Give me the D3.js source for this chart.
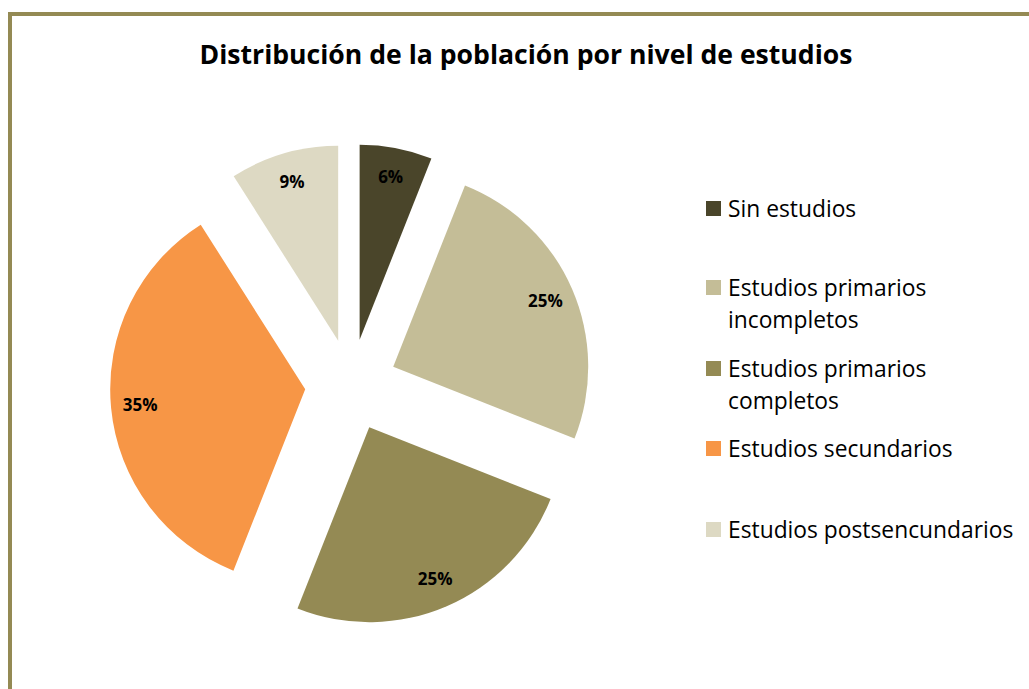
<!DOCTYPE html>
<html>
<head>
<meta charset="utf-8">
<script src="https://cdn.jsdelivr.net/npm/d3@7"></script>
<style>
  body { margin: 0; background: #fff; }
  svg text { font-family: "Open Sans", Lato, sans-serif; }
</style>
</head>
<body>
<div id="chart"></div>
<script>
var categories = ['Sin estudios', 'Estudios primarios incompletos', 'Estudios primarios completos', 'Estudios secundarios', 'Estudios postsencundarios'];
var legendLines = [['Sin estudios'], ['Estudios primarios', 'incompletos'], ['Estudios primarios', 'completos'], ['Estudios secundarios'], ['Estudios postsencundarios']];
var values = [6, 25, 25, 35, 9];
var colors = ['#4A452A', '#C4BD97', '#948A54', '#F79646', '#DDD9C3'];
var title = 'Distribución de la población por nivel de estudios';

var W = 1029, H = 689;
var svg = d3.select('#chart').append('svg').attr('width', W).attr('height', H);

// frame
svg.append('rect')
  .attr('x', 10).attr('y', 14)
  .attr('width', W + 20).attr('height', H + 20)
  .style('fill', '#fff').style('stroke', '#948A54').style('stroke-width', 4);

svg.append('text')
  .attr('x', 526).attr('y', 64)
  .style('text-anchor', 'middle')
  .style('font-weight', 'bold')
  .style('font-size', '26.6px')
  .style('fill', '#000')
  .text(title);

var cx = 351, cy = 385, r = 195, explode = 46;
var pie = d3.pie().sort(null).value(function (d) { return d; });
var arcs = pie(values);
var arc = d3.arc().innerRadius(0).outerRadius(r);
var total = d3.sum(values);

var g = svg.append('g').attr('transform', 'translate(' + cx + ',' + cy + ')');

function dir(d) {
  var a = (d.startAngle + d.endAngle) / 2;
  return [Math.sin(a), -Math.cos(a)];
}

g.selectAll('path.slice').data(arcs).enter().append('path')
  .attr('class', 'slice')
  .attr('d', arc)
  .attr('transform', function (d) { var v = dir(d); return 'translate(' + v[0] * explode + ',' + v[1] * explode + ')'; })
  .style('fill', function (d, i) { return colors[i]; });

var labelR = explode + r * 0.85;
g.selectAll('text.lbl').data(arcs).enter().append('text')
  .attr('class', 'lbl')
  .attr('x', function (d) { return dir(d)[0] * labelR; })
  .attr('y', function (d) { return dir(d)[1] * labelR; })
  .attr('dy', '0.35em')
  .style('text-anchor', 'middle')
  .style('font-weight', 'bold')
  .style('font-size', '17px')
  .style('fill', '#000')
  .text(function (d) { return Math.round(d.value / total * 100) + '%'; });

// legend
var legendY = [209, 288, 369, 449, 530];
var lg = svg.append('g');
legendLines.forEach(function (lines, i) {
  lg.append('rect')
    .attr('x', 706).attr('y', legendY[i] - 8)
    .attr('width', 15).attr('height', 15)
    .style('fill', colors[i]);
  var t = lg.append('text')
    .attr('x', 728).attr('y', legendY[i])
    .style('font-size', '22.8px')
    .style('fill', '#000');
  lines.forEach(function (l, j) {
    t.append('tspan').attr('x', 728).attr('dy', j === 0 ? '0.35em' : '1.4em').text(l);
  });
});
</script>
</body>
</html>
